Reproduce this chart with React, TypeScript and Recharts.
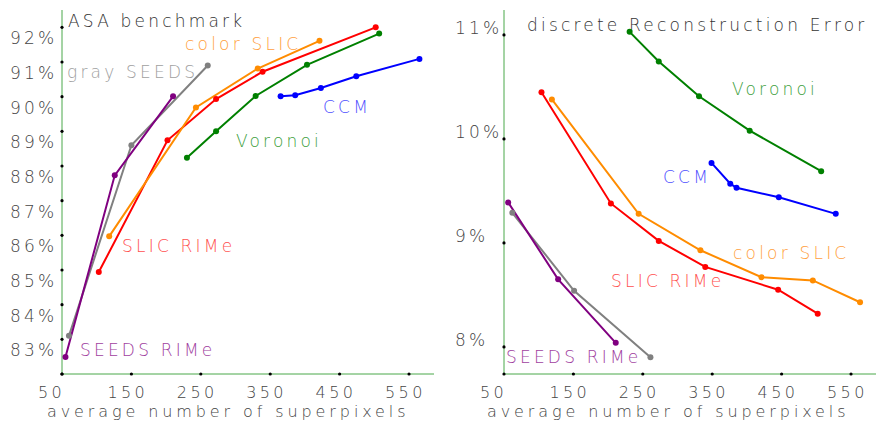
import { LineChart, Line, XAxis, YAxis } from "recharts";

// average number of superpixels + ASA (%) per method
const asaSlicRimeX = [103, 202, 272, 339, 502];
const asaSlicRimeY = [84.94, 88.74, 89.93, 90.72, 92.0];
const asaColorSlicX = [118, 243, 332, 421];
const asaColorSlicY = [85.97, 89.69, 90.81, 91.61];
const asaVoronoiX = [230, 272, 329, 403, 507];
const asaVoronoiY = [88.24, 89.0, 90.02, 90.92, 91.82];
const asaCcmX = [365, 386, 423, 474, 565];
const asaCcmY = [90.01, 90.04, 90.25, 90.59, 91.09];
const asaGraySeedsX = [60, 150, 260];
const asaGraySeedsY = [83.1, 88.6, 90.9];
const asaSeedsRimeX = [55, 126, 210];
const asaSeedsRimeY = [82.49, 87.73, 90.01];

// discrete reconstruction error (%)
const errSlicRimeX = [104, 204, 273, 340, 445, 502];
const errSlicRimeY = [10.45, 9.38, 9.02, 8.77, 8.55, 8.32];
const errColorSlicX = [119, 244, 333, 421, 495, 563];
const errColorSlicY = [10.38, 9.28, 8.93, 8.67, 8.64, 8.43];
const errVoronoiX = [231, 273, 331, 404, 507];
const errVoronoiY = [11.03, 10.745, 10.41, 10.08, 9.69];
const errCcmX = [349, 376, 385, 446, 528];
const errCcmY = [9.77, 9.57, 9.53, 9.44, 9.28];
const errGraySeedsX = [62, 151, 261];
const errGraySeedsY = [9.29, 8.54, 7.9];
const errSeedsRimeX = [56, 128, 211];
const errSeedsRimeY = [9.39, 8.65, 8.04];

const xTicks = [50, 150, 250, 350, 450, 550];
const asaTicks = [82, 83, 84, 85, 86, 87, 88, 89, 90, 91, 92];
const errTicks = [8, 9, 10, 11];

const FONT = "'DejaVu Sans', sans-serif";
const AXIS = "#4aa84a";
const txt = { fontFamily: FONT, fontSize: 17, fontWeight: 200, letterSpacing: 3.2 };
const tickTxt = { fontFamily: FONT, fontSize: 16, fontWeight: 200, letterSpacing: 3.4 };
const titleTxt = { fontFamily: FONT, fontSize: 16, fontWeight: 200, letterSpacing: 3.9 };

const zip = (xs: number[], ys: number[]) => xs.map((x, i) => ({ x, y: ys[i] }));

const asaSeries = [
  { color: "#ff0000", data: zip(asaSlicRimeX, asaSlicRimeY) },
  { color: "#ff8c00", data: zip(asaColorSlicX, asaColorSlicY) },
  { color: "#008000", data: zip(asaVoronoiX, asaVoronoiY) },
  { color: "#0000ff", data: zip(asaCcmX, asaCcmY) },
  { color: "#808080", data: zip(asaGraySeedsX, asaGraySeedsY) },
  { color: "#800080", data: zip(asaSeedsRimeX, asaSeedsRimeY) },
];

const errSeries = [
  { color: "#008000", data: zip(errVoronoiX, errVoronoiY) },
  { color: "#0000ff", data: zip(errCcmX, errCcmY) },
  { color: "#ff8c00", data: zip(errColorSlicX, errColorSlicY) },
  { color: "#ff0000", data: zip(errSlicRimeX, errSlicRimeY) },
  { color: "#808080", data: zip(errGraySeedsX, errGraySeedsY) },
  { color: "#800080", data: zip(errSeedsRimeX, errSeedsRimeY) },
];

const asaLabels = [
  { t: "ASA benchmark", x: 68, y: 27, c: "#333" },
  { t: "color SLIC", x: 185, y: 50, c: "#ffa040" },
  { t: "gray SEEDS", x: 67, y: 78, c: "#a0a0a0" },
  { t: "CCM", x: 323, y: 113, c: "#5050ff" },
  { t: "Voronoi", x: 236, y: 147, c: "#40a040" },
  { t: "SLIC RIMe", x: 122, y: 252, c: "#ff5050" },
  { t: "SEEDS RIMe", x: 80, y: 356, c: "#a040a0" },
];

const errLabels = [
  { t: "discrete Reconstruction Error", x: 87, y: 31, c: "#333" },
  { t: "Voronoi", x: 292, y: 95, c: "#40a040" },
  { t: "CCM", x: 223, y: 183, c: "#5050ff" },
  { t: "color SLIC", x: 293, y: 259, c: "#ffa040" },
  { t: "SLIC RIMe", x: 171, y: 287, c: "#ff5050" },
  { t: "SEEDS RIMe", x: 66, y: 363, c: "#a040a0" },
];

type PanelProps = {
  left: number;
  width: number;
  yWidth: number;
  yDomain: [number, number];
  yTicks: number[];
  yLabelDx: number;
  yLabelDy: number;
  hideFirstY: boolean;
  series: { color: string; data: { x: number; y: number }[] }[];
  labels: { t: string; x: number; y: number; c: string }[];
};

function Panel(p: PanelProps) {
  const xTick = (props: any) => {
    const { x, y, payload } = props;
    return (
      <g>
        <circle cx={x} cy={y} r={1.6} fill="#000" />
        <text x={x - 24} y={y + 23.5} fill="#444" {...tickTxt}>
          {payload.value}
        </text>
      </g>
    );
  };
  const yTick = (props: any) => {
    const { x, y, payload } = props;
    const showText = !(p.hideFirstY && payload.value === p.yTicks[0]);
    return (
      <g>
        <circle cx={x} cy={y} r={1.6} fill="#000" />
        {showText && (
          <text x={x + p.yLabelDx} y={y + p.yLabelDy} fill="#444" {...txt}>
            {payload.value}%
          </text>
        )}
      </g>
    );
  };
  return (
    <div style={{ position: "absolute", left: p.left, top: 0 }}>
      <LineChart
        width={p.width}
        height={422}
        margin={{ top: 10, right: p.width - p.yWidth - 372, bottom: 0, left: 0 }}
      >
        <XAxis
          type="number"
          dataKey="x"
          domain={[50, 586]}
          ticks={xTicks}
          allowDataOverflow
          height={48}
          stroke={AXIS}
          tickLine={false}
          tickSize={0}
          tickMargin={0}
          tick={xTick}
          interval={0}
        />
        <YAxis
          type="number"
          dataKey="y"
          domain={p.yDomain}
          ticks={p.yTicks}
          allowDataOverflow
          width={p.yWidth}
          stroke={AXIS}
          tickLine={false}
          tickSize={0}
          tickMargin={0}
          tick={yTick}
          interval={0}
        />
        {p.series.map((s, i) => (
          <Line
            key={i}
            data={s.data}
            dataKey="y"
            type="linear"
            stroke={s.color}
            strokeWidth={2}
            dot={{ r: 3, fill: s.color, stroke: s.color, strokeWidth: 0 }}
            activeDot={false}
            isAnimationActive={false}
          />
        ))}
        {p.labels.map((l, i) => (
          <text key={"l" + i} x={l.x} y={l.y} fill={l.c} {...txt}>
            {l.t}
          </text>
        ))}
        <text x={47} y={417} fill="#444" {...titleTxt}>
          average number of superpixels
        </text>
      </LineChart>
    </div>
  );
}

export default function App() {
  return (
    <div
      style={{
        position: "absolute",
        left: 0,
        top: 0,
        width: 881,
        height: 422,
        background: "#fff",
        overflow: "hidden",
      }}
    >
      <Panel
        left={0}
        width={440}
        yWidth={62}
        yDomain={[82, 92.5]}
        yTicks={asaTicks}
        yLabelDx={-52}
        yLabelDy={17}
        hideFirstY
        series={asaSeries}
        labels={asaLabels}
      />
      <Panel
        left={440}
        width={441}
        yWidth={64}
        yDomain={[7.74, 11.24]}
        yTicks={errTicks}
        yLabelDx={-49}
        yLabelDy={-1}
        hideFirstY={false}
        series={errSeries}
        labels={errLabels}
      />
    </div>
  );
}
